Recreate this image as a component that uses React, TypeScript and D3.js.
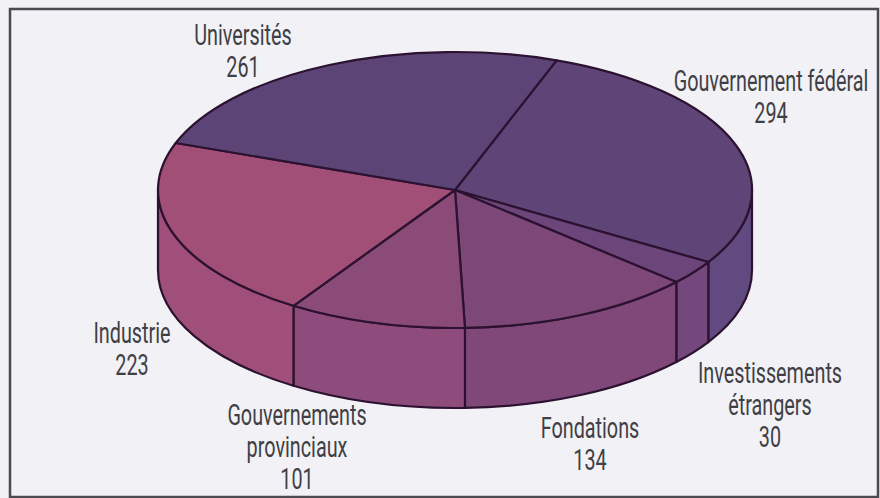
import React from "react";
import * as d3 from "d3";

// Funding sources, clockwise from the top of the disc
const sources = [
  "Gouvernement fédéral",
  "Investissements étrangers",
  "Fondations",
  "Gouvernements provinciaux",
  "Industrie",
  "Universités",
];
const amounts = [294, 30, 134, 101, 223, 261];

// Label text, split over lines
const labelLines = [
  ["Gouvernement fédéral", "294"],
  ["Investissements", "étrangers", "30"],
  ["Fondations", "134"],
  ["Gouvernements", "provinciaux", "101"],
  ["Industrie", "223"],
  ["Universités", "261"],
];

// Centre x and first-baseline y of each label
const labelAnchors: [number, number][] = [
  [771, 91],
  [770, 383],
  [590, 438],
  [297, 425],
  [132, 343],
  [243, 45],
];

const topColors = ["#5f4477", "#6c457a", "#7d4777", "#8b4b78", "#a14f77", "#5c4477"];
const wallColors = ["#604a80", "#74487d", "#7f4878", "#8d4c7b", "#a04f7a", "#5c4477"];

const WIDTH = 880;
const HEIGHT = 498;
const cx = 455;
const cy = 190;
const rx = 297;
const ry = 138;
const depth = 80;
const startAngle = (20 * Math.PI) / 180;
const INK = "#2c1230";
const LINE_STEP = 32;
const CONDENSE = 0.66;

// Angle measured clockwise from straight up, projected onto the tilted disc
const project = (a: number, dy = 0): [number, number] => [
  cx + rx * Math.sin(a),
  cy - ry * Math.cos(a) + dy,
];

const fmt = (p: [number, number]) => `${p[0].toFixed(2)},${p[1].toFixed(2)}`;

// Elliptical arc step between two angles
const arcTo = (a0: number, a1: number, dy = 0, sweep = 1) =>
  `A${rx},${ry} 0 ${Math.abs(a1 - a0) > Math.PI ? 1 : 0} ${sweep} ${fmt(project(a1, dy))}`;

export default function App() {
  const slices = d3
    .pie<number>()
    .sort(null)
    .startAngle(startAngle)
    .endAngle(startAngle + 2 * Math.PI)(amounts);

  const frontStart = Math.PI / 2;
  const frontEnd = (3 * Math.PI) / 2;

  // Portion of each slice's rim that faces the viewer
  const walls = slices
    .map((s, i) => {
      const a0 = Math.max(s.startAngle, frontStart);
      const a1 = Math.min(s.endAngle, frontEnd);
      if (a1 <= a0) return null;
      const d =
        `M${fmt(project(a0))}` +
        arcTo(a0, a1) +
        `L${fmt(project(a1, depth))}` +
        arcTo(a1, a0, depth, 0) +
        "Z";
      return { i, d };
    })
    .filter(Boolean) as { i: number; d: string }[];

  return (
    <svg
      width={WIDTH}
      height={HEIGHT}
      style={{ position: "absolute", left: 0, top: 0 }}
      fontFamily="Roboto, sans-serif"
    >
      <rect width={WIDTH} height={HEIGHT} fill="#f2f1f5" />
      <rect x={10} y={9} width={868} height={488} fill="#f2f1f5" stroke="#4a4a50" strokeWidth={2.5} />

      {walls.map((w) => (
        <path key={sources[w.i]} d={w.d} fill={wallColors[w.i]} stroke={INK} strokeWidth={2.2} strokeLinejoin="round" />
      ))}

      {slices.map((s, i) => (
        <path
          key={sources[i]}
          d={`M${cx},${cy}L${fmt(project(s.startAngle))}${arcTo(s.startAngle, s.endAngle)}Z`}
          fill={topColors[i]}
          stroke={INK}
          strokeWidth={2.2}
          strokeLinejoin="round"
        />
      ))}

      {labelLines.map((lines, i) =>
        lines.map((line, j) => (
          <text
            key={`${sources[i]}-${j}`}
            textAnchor="middle"
            fontSize={30}
            fill="#3f3f46"
            transform={`translate(${labelAnchors[i][0]},${labelAnchors[i][1] + j * LINE_STEP}) scale(${CONDENSE},1)`}
          >
            {line}
          </text>
        ))
      )}
    </svg>
  );
}
